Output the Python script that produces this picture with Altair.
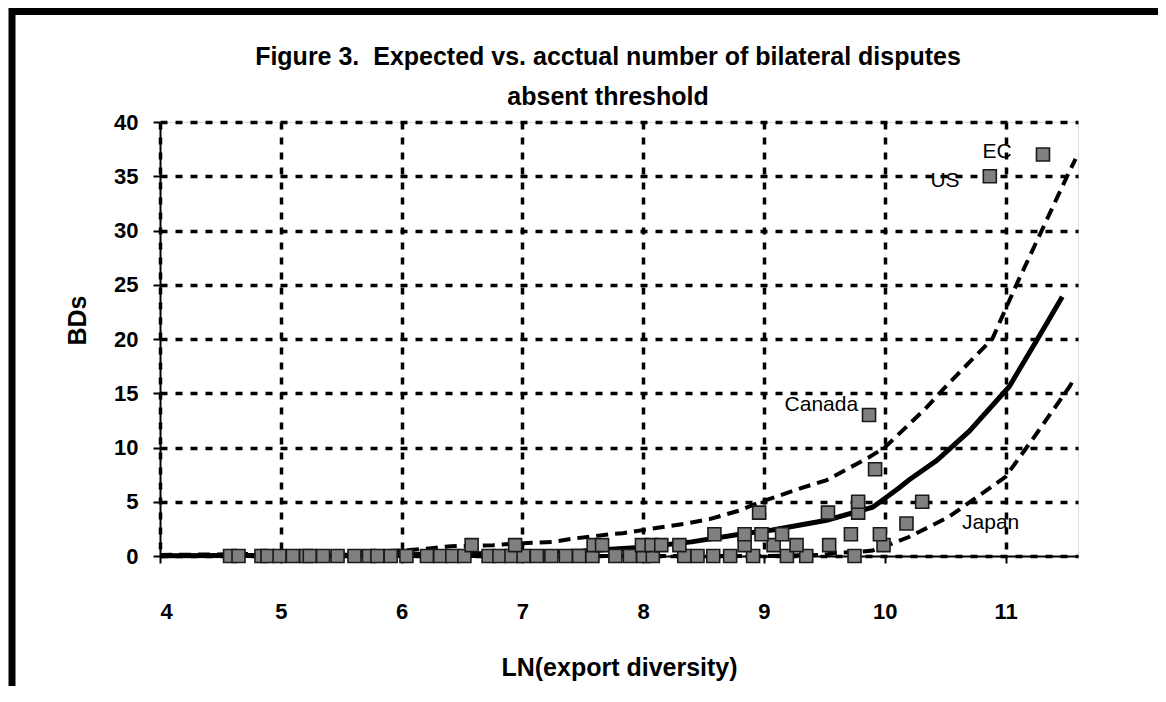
import altair as alt
import pandas as pd

# ---------------- data ----------------
# Actual number of bilateral disputes (scatter squares)
actual_x = [4.58, 4.65, 4.84, 4.89, 4.99, 5.10, 5.21, 5.24, 5.35, 5.47,
            5.61, 5.73, 5.80, 5.91, 6.04, 6.21, 6.32, 6.42, 6.52, 6.72,
            6.81, 6.91, 7.01, 7.12, 7.24, 7.36, 7.47, 7.58, 7.77, 7.89,
            8.00, 8.08, 8.34, 8.45, 8.58, 8.72, 8.91, 9.19, 9.35, 9.75,
            6.58, 6.94, 7.59, 7.66, 7.99, 8.07, 8.15, 8.30, 8.84, 9.08,
            9.27, 9.54, 9.99,
            8.59, 8.84, 8.98, 9.15, 9.72, 9.96,
            10.18,
            8.96, 9.53, 9.78,
            9.78, 10.31,
            9.92,
            9.87,
            10.87,
            11.31]
actual_y = [0] * 40 + [1] * 13 + [2] * 6 + [3] + [4] * 3 + [5] * 2 + [8] + [13] + [35] + [37]

# Expected number (solid curve)
expected_x = [4.0, 4.6, 5.0, 5.5, 6.0, 6.5, 7.0, 7.5, 8.0, 8.4, 8.8, 9.07,
              9.52, 9.9, 10.0, 10.12, 10.2, 10.43, 10.7, 11.03, 11.26, 11.36, 11.47]
expected_y = [0.02, 0.04, 0.05, 0.08, 0.12, 0.18, 0.28, 0.45, 0.8, 1.3, 2.0, 2.4,
              3.3, 4.5, 5.3, 6.3, 7.0, 8.8, 11.5, 15.6, 19.9, 21.8, 23.9]

# Upper bound (dashed)
upper_x = [4.0, 5.0, 5.5, 6.0, 6.23, 6.41, 6.76, 7.04, 7.25, 7.42, 7.57, 7.72,
           7.83, 8.12, 8.36, 8.55, 8.8, 8.95, 9.32, 9.52, 9.87, 10.0, 10.33,
           10.52, 10.89, 11.09, 11.3, 11.51, 11.58]
upper_y = [0.1, 0.2, 0.35, 0.5, 0.7, 0.9, 1.0, 1.2, 1.3, 1.6, 1.8, 2.0,
           2.1, 2.6, 3.0, 3.4, 4.2, 4.9, 6.3, 7.0, 9.1, 10.0, 13.5,
           15.8, 20.0, 25.0, 30.0, 35.0, 36.6]

# Lower bound (dashed)
lower_x = [4.0, 9.0, 9.5, 9.6, 9.8, 9.9, 9.98, 10.2, 10.53, 10.81, 11.0, 11.22, 11.53, 11.55]
lower_y = [0.0, 0.0, 0.1, 0.3, 0.4, 0.5, 0.8, 1.75, 3.6, 5.8, 7.3, 10.7, 15.6, 16.0]

# Country labels
label_text = ["EC", "US", "Canada", "Japan"]
label_x = [11.05, 10.62, 9.78, 10.64]
label_y = [37.2, 34.6, 13.9, 3.0]
label_side = ["right", "right", "right", "left"]

title_lines = ["Figure 3.\u00a0 Expected vs. acctual number of bilateral disputes",
               "absent threshold"]

x_ticks = [4, 5, 6, 7, 8, 9, 10, 11]
y_ticks = [0, 5, 10, 15, 20, 25, 30, 35, 40]

# ---------------- chart ----------------
FONT = "Liberation Sans"

pts = pd.DataFrame({"x": actual_x, "y": actual_y})
exp_df = pd.DataFrame({"x": expected_x, "y": expected_y})
up_df = pd.DataFrame({"x": upper_x, "y": upper_y})
lo_df = pd.DataFrame({"x": lower_x, "y": lower_y})
lab_df = pd.DataFrame({"text": label_text, "x": label_x, "y": label_y, "side": label_side})
title_df = pd.DataFrame({"t": ["\n".join(title_lines)]})

xscale = alt.Scale(domain=[4, 11.6], nice=False, zero=False)
yscale = alt.Scale(domain=[0, 40], nice=False)

grid_common = dict(grid=True, gridColor="black", gridWidth=3.5, gridDash=[7, 8],
                   domainColor="black", domainWidth=2, tickColor="black", tickWidth=2,
                   tickSize=7, labelFont=FONT, labelFontWeight="bold", labelFontSize=22,
                   labelColor="black", titleFont=FONT, titleFontWeight="bold",
                   titleFontSize=25, titleColor="black", format="d")

x_axis = alt.Axis(values=x_ticks, title="LN(export diversity)", labelPadding=38,
                  titleY=111, titleBaseline="middle", **grid_common)
y_axis = alt.Axis(values=y_ticks, title="BDs", labelPadding=15,
                  titleX=-83, titleY=198, titleBaseline="middle", **grid_common)

X = alt.X("x:Q", scale=xscale)
Y = alt.Y("y:Q", scale=yscale)

upper = alt.Chart(up_df).mark_line(color="black", strokeWidth=4, strokeDash=[12, 7]).encode(
    x=alt.X("x:Q", scale=xscale, axis=x_axis), y=alt.Y("y:Q", scale=yscale, axis=y_axis))
lower = alt.Chart(lo_df).mark_line(color="black", strokeWidth=4, strokeDash=[12, 7]).encode(x=X, y=Y)
expected = alt.Chart(exp_df).mark_line(color="black", strokeWidth=5).encode(x=X, y=Y)

points = alt.Chart(pts).mark_square(size=169, color="#808080", fill="#808080", opacity=1,
                                    stroke="#1a1a1a", strokeWidth=1.6).encode(x=X, y=Y)

labels_r = alt.Chart(lab_df).transform_filter(alt.datum.side == "right").mark_text(
    align="right", baseline="middle", font=FONT, fontSize=21, color="black").encode(
    x=X, y=Y, text="text:N")
labels_l = alt.Chart(lab_df).transform_filter(alt.datum.side == "left").mark_text(
    align="left", baseline="middle", font=FONT, fontSize=21, color="black").encode(
    x=X, y=Y, text="text:N")

title = alt.Chart(title_df).mark_text(
    align="center", baseline="alphabetic", font=FONT, fontSize=25, fontWeight="bold",
    color="black", lineBreak="\n", lineHeight=40).encode(
    x=alt.value(448), y=alt.value(-57), text="t:N")

frame = alt.Chart(pd.DataFrame({"f": [0]})).mark_rect(
    filled=False, stroke="black", strokeWidth=7).encode(
    x=alt.value(-148), x2=alt.value(1200), y=alt.value(-110.5), y2=alt.value(800))

chart = alt.layer(upper, lower, expected, points, labels_r, labels_l, title, frame).properties(
    width=918, height=434,
    padding={"left": 152, "top": 114, "right": 80, "bottom": 130},
    autosize=alt.AutoSizeParams(type="none"),
).configure_view(stroke="#333333", strokeWidth=1.5).configure(background="white")

chart.save("out.html", embed_options={"renderer": "svg", "actions": False})
